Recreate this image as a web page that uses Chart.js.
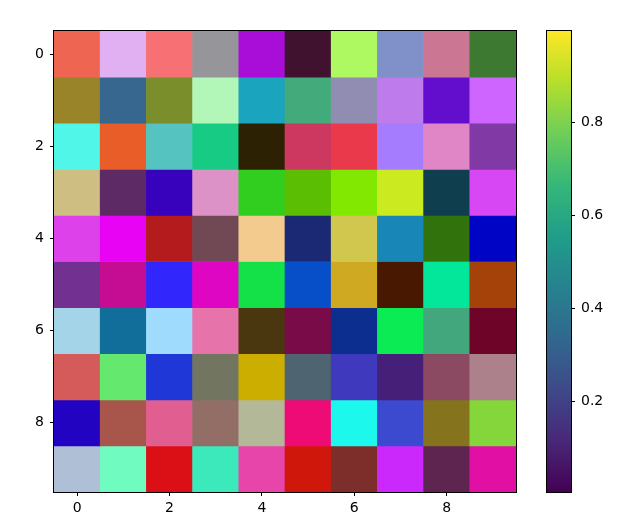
<!DOCTYPE html>
<html>
<head>
<meta charset="utf-8">
<script src="https://cdn.jsdelivr.net/npm/chart.js@4/dist/chart.umd.min.js"></script>
<style>
  html, body { margin: 0; padding: 0; background: #fff; }
  #wrap { position: relative; width: 638px; height: 527px; }
  #main { position: absolute; left: 0; top: 0; }
  #cbar { position: absolute; left: 530px; top: 0; }
</style>
</head>
<body>
<div id="wrap">
  <canvas id="main" width="530" height="527"></canvas>
  <canvas id="cbar" width="108" height="527"></canvas>
</div>
<script>
// cell colours, one array per image row (row 0 at the top)
const row0 = ['#EE6652', '#E1B0F3', '#F77074', '#96959A', '#A80ED8', '#40122F', '#AEF861', '#8090C8', '#CB7793', '#3D7930'];
const row1 = ['#9A842A', '#37668E', '#7B8E2C', '#B2F7B8', '#1BA4BE', '#43AB7B', '#918CB1', '#BE7BEC', '#630ECD', '#CE65FE'];
const row2 = ['#50F6E8', '#E95D29', '#55C4C0', '#18CB85', '#2D2104', '#CD3861', '#EA394B', '#A67CFE', '#E085C6', '#8039A5'];
const row3 = ['#CEBE82', '#5D2A66', '#3801BC', '#DC92C7', '#31CE1F', '#5CBE02', '#82E801', '#CBEB20', '#0F3F4F', '#D847F4'];
const row4 = ['#DD41E9', '#E903F5', '#B31B1D', '#704955', '#F3CB8E', '#1B2873', '#D1C64E', '#1886B6', '#31720D', '#0004C5'];
const row5 = ['#723190', '#C50D93', '#3127FC', '#DE05C3', '#14E048', '#064FC8', '#CFA922', '#491800', '#02E79A', '#A5420A'];
const row6 = ['#A4D4E7', '#116E9B', '#9EDBFC', '#E673AA', '#4B370F', '#7A0B49', '#0C2F8F', '#0BEB54', '#42A77D', '#6E0427'];
const row7 = ['#D55B5B', '#65E86E', '#1F37D6', '#727560', '#CCAE00', '#4E6471', '#3F3ABD', '#461F78', '#8C4962', '#AC818B'];
const row8 = ['#2203C1', '#A8554C', '#E15E91', '#926E67', '#B3B899', '#EF0B76', '#1DF8EC', '#3C4ACF', '#85741D', '#84D63A'];
const row9 = ['#AFBFD5', '#70FCC0', '#DB1016', '#3BE9BB', '#E745A9', '#D0170B', '#7E2E2A', '#CB28FC', '#5E2550', '#E10FA4'];
const rows = [row0, row1, row2, row3, row4, row5, row6, row7, row8, row9];

const colIdx = [0, 1, 2, 3, 4, 5, 6, 7, 8, 9];
const xTicks = [0, 2, 4, 6, 8];
const yTicks = [0, 2, 4, 6, 8];

// colorbar
const cbMin = 0.004;
const cbMax = 0.998;
const cbTicks = [0.2, 0.4, 0.6, 0.8];
const viridis = ['#440154', '#482878', '#3e4989', '#31688e', '#26828e', '#1f9e89', '#35b779', '#6ece58', '#b5de2b', '#fde725'];

const tickFont = { family: 'DejaVu Sans', size: 14 };

const frame = {
    id: 'frame',
    afterDatasetsDraw(chart) {
        const a = chart.chartArea;
        const c = chart.ctx;
        c.save();
        c.strokeStyle = '#000';
        c.lineWidth = 1;
        c.strokeRect(Math.round(a.left) - 0.5, Math.round(a.top) - 0.5,
            Math.round(a.right - a.left) + 1, Math.round(a.bottom - a.top) + 1);
        c.restore();
    }
};

const axisBase = {
    offset: false,
    grid: { offset: false, drawOnChartArea: false, drawTicks: true, tickLength: 4, color: '#000' },
    border: { display: false },
    ticks: { color: '#000', font: tickFont, autoSkip: false, maxRotation: 0 }
};

new Chart(document.getElementById('main'), {
    type: 'bar',
    data: {
        datasets: rows.map((row, r) => ({
            data: colIdx.map(c => ({ x: c, y: [r - 0.5, r + 0.5] })),
            backgroundColor: row,
            borderWidth: 0,
            grouped: false,
            barPercentage: 1,
            categoryPercentage: 1
        }))
    },
    options: {
        responsive: false,
        animation: false,
        devicePixelRatio: 1,
        layout: { padding: { left: 0, top: 31, right: 14, bottom: 0 } },
        plugins: { legend: { display: false }, tooltip: { enabled: false } },
        scales: {
            x: {
                ...axisBase,
                type: 'linear',
                min: -0.5,
                max: 9.5,
                afterBuildTicks: s => { s.ticks = xTicks.map(v => ({ value: v })); },
                afterFit: s => { s.height = 35; },
                ticks: { ...axisBase.ticks, padding: 4 }
            },
            y: {
                ...axisBase,
                type: 'linear',
                reverse: true,
                min: -0.5,
                max: 9.5,
                afterBuildTicks: s => { s.ticks = yTicks.map(v => ({ value: v })); },
                afterFit: s => { s.width = 54; },
                ticks: { ...axisBase.ticks, padding: 6 }
            }
        }
    },
    plugins: [frame]
});

new Chart(document.getElementById('cbar'), {
    type: 'bar',
    data: {
        labels: ['cb'],
        datasets: [{
            data: [[cbMin, cbMax]],
            borderWidth: 0,
            barPercentage: 1,
            categoryPercentage: 1,
            backgroundColor: ctx => {
                const a = ctx.chart.chartArea;
                if (!a) return viridis[0];
                const g = ctx.chart.ctx.createLinearGradient(0, a.bottom, 0, a.top);
                viridis.forEach((col, i) => g.addColorStop(i / (viridis.length - 1), col));
                return g;
            }
        }]
    },
    options: {
        responsive: false,
        animation: false,
        devicePixelRatio: 1,
        layout: { padding: { left: 17, top: 31, right: 0, bottom: 35 } },
        plugins: { legend: { display: false }, tooltip: { enabled: false } },
        scales: {
            x: { display: false },
            y: {
                ...axisBase,
                position: 'right',
                min: cbMin,
                max: cbMax,
                afterBuildTicks: s => { s.ticks = cbTicks.map(v => ({ value: v })); },
                afterFit: s => { s.width = 67; },
                ticks: { ...axisBase.ticks, padding: 6, callback: v => v.toFixed(1) }
            }
        }
    },
    plugins: [frame]
});
</script>
</body>
</html>
